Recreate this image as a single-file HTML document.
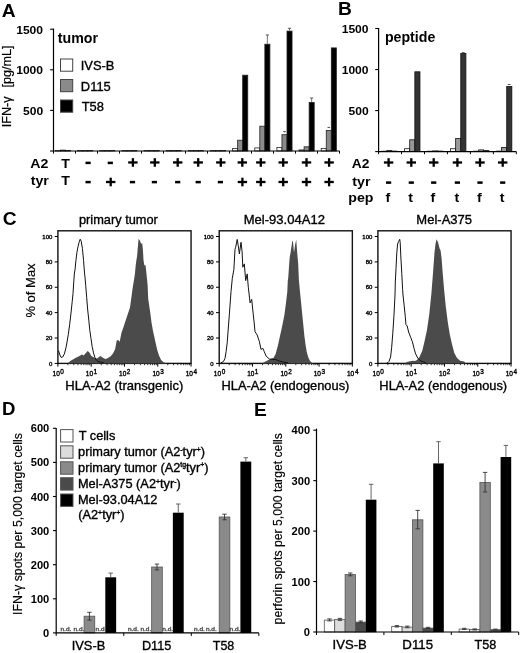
<!DOCTYPE html>
<html><head><meta charset="utf-8"><style>
html,body{margin:0;padding:0;background:#fff;overflow:hidden;width:520px;height:653px;}
svg{display:block;font-family:"Liberation Sans", sans-serif;will-change:transform;}
</style></head><body>
<svg width="520" height="653" viewBox="0 0 520 653">
<rect x="0" y="0" width="520" height="653" fill="#fff"/>
<text transform="translate(1.72 17.00)" font-size="19.2" font-weight="bold" fill="#000">A</text>
<text transform="translate(338.05 14.70)" font-size="19.2" font-weight="bold" fill="#000">B</text>
<text transform="translate(2.73 224.60)" font-size="19.2" font-weight="bold" fill="#000">C</text>
<text transform="translate(2.09 414.50)" font-size="18.6" font-weight="bold" fill="#000">D</text>
<text transform="translate(253.95 415.70)" font-size="19.2" font-weight="bold" fill="#000">E</text>
<line x1="53.50" y1="28.60" x2="53.50" y2="151.60" stroke="#000" stroke-width="1.2"/>
<line x1="50.10" y1="151.00" x2="53.50" y2="151.00" stroke="#000" stroke-width="1.1"/>
<line x1="50.10" y1="110.40" x2="53.50" y2="110.40" stroke="#000" stroke-width="1.1"/>
<text transform="translate(22.94 115.00) scale(1.1000 1)" font-size="11.0" font-weight="bold" fill="#000">500</text>
<line x1="50.10" y1="69.80" x2="53.50" y2="69.80" stroke="#000" stroke-width="1.1"/>
<text transform="translate(16.16 74.40) scale(1.1000 1)" font-size="11.0" font-weight="bold" fill="#000">1000</text>
<line x1="50.10" y1="29.20" x2="53.50" y2="29.20" stroke="#000" stroke-width="1.1"/>
<text transform="translate(16.16 33.80) scale(1.1000 1)" font-size="11.0" font-weight="bold" fill="#000">1500</text>
<text transform="translate(11.40 127.34) rotate(-90) scale(1.0300 1)" font-size="12.3" fill="#000" stroke="#000" stroke-width="0.18">IFN-γ</text>
<text transform="translate(11.40 87.59) rotate(-90) scale(1.0300 1)" font-size="12.3" fill="#000" stroke="#000" stroke-width="0.18">[pg/mL]</text>
<line x1="53.50" y1="151.00" x2="53.50" y2="153.60" stroke="#000" stroke-width="1.0"/>
<line x1="75.50" y1="151.00" x2="75.50" y2="153.60" stroke="#000" stroke-width="1.0"/>
<line x1="97.50" y1="151.00" x2="97.50" y2="153.60" stroke="#000" stroke-width="1.0"/>
<line x1="119.50" y1="151.00" x2="119.50" y2="153.60" stroke="#000" stroke-width="1.0"/>
<line x1="141.50" y1="151.00" x2="141.50" y2="153.60" stroke="#000" stroke-width="1.0"/>
<line x1="163.50" y1="151.00" x2="163.50" y2="153.60" stroke="#000" stroke-width="1.0"/>
<line x1="185.50" y1="151.00" x2="185.50" y2="153.60" stroke="#000" stroke-width="1.0"/>
<line x1="207.50" y1="151.00" x2="207.50" y2="153.60" stroke="#000" stroke-width="1.0"/>
<line x1="229.50" y1="151.00" x2="229.50" y2="153.60" stroke="#000" stroke-width="1.0"/>
<line x1="251.50" y1="151.00" x2="251.50" y2="153.60" stroke="#000" stroke-width="1.0"/>
<line x1="273.50" y1="151.00" x2="273.50" y2="153.60" stroke="#000" stroke-width="1.0"/>
<line x1="295.50" y1="151.00" x2="295.50" y2="153.60" stroke="#000" stroke-width="1.0"/>
<line x1="317.50" y1="151.00" x2="317.50" y2="153.60" stroke="#000" stroke-width="1.0"/>
<line x1="339.50" y1="151.00" x2="339.50" y2="153.60" stroke="#000" stroke-width="1.0"/>
<text transform="translate(57.76 42.70)" font-size="14.2" font-weight="bold" fill="#000">tumor</text>
<rect x="60.50" y="59.00" width="12.20" height="12.20" fill="#fff" stroke="#444" stroke-width="1"/>
<text transform="translate(80.74 70.20)" font-size="12.9" fill="#000" stroke="#000" stroke-width="0.35">IVS-B</text>
<rect x="60.50" y="79.50" width="12.20" height="12.20" fill="#8a8a8a" stroke="#444" stroke-width="1"/>
<text transform="translate(80.87 90.70)" font-size="12.9" fill="#000" stroke="#000" stroke-width="0.35">D115</text>
<rect x="60.50" y="100.00" width="12.20" height="12.20" fill="#000" stroke="#444" stroke-width="1"/>
<text transform="translate(81.64 111.20)" font-size="12.9" fill="#000" stroke="#000" stroke-width="0.35">T58</text>
<rect x="55.40" y="150.60" width="5.05" height="0.40" fill="#fff" stroke="#222" stroke-width="0.8"/>
<rect x="60.45" y="150.10" width="5.05" height="0.90" fill="#8a8a8a" stroke="#222" stroke-width="0.8"/>
<rect x="65.50" y="150.40" width="5.05" height="0.60" fill="#000" stroke="#222" stroke-width="0.8"/>
<rect x="77.55" y="150.60" width="5.05" height="0.40" fill="#fff" stroke="#222" stroke-width="0.8"/>
<rect x="82.60" y="150.60" width="5.05" height="0.40" fill="#8a8a8a" stroke="#222" stroke-width="0.8"/>
<rect x="87.65" y="150.60" width="5.05" height="0.40" fill="#000" stroke="#222" stroke-width="0.8"/>
<rect x="99.70" y="150.60" width="5.05" height="0.40" fill="#fff" stroke="#222" stroke-width="0.8"/>
<rect x="104.75" y="150.60" width="5.05" height="0.40" fill="#8a8a8a" stroke="#222" stroke-width="0.8"/>
<rect x="109.80" y="150.60" width="5.05" height="0.40" fill="#000" stroke="#222" stroke-width="0.8"/>
<rect x="121.85" y="150.60" width="5.05" height="0.40" fill="#fff" stroke="#222" stroke-width="0.8"/>
<rect x="126.90" y="150.60" width="5.05" height="0.40" fill="#8a8a8a" stroke="#222" stroke-width="0.8"/>
<rect x="131.95" y="150.60" width="5.05" height="0.40" fill="#000" stroke="#222" stroke-width="0.8"/>
<rect x="144.00" y="150.60" width="5.05" height="0.40" fill="#fff" stroke="#222" stroke-width="0.8"/>
<rect x="149.05" y="150.60" width="5.05" height="0.40" fill="#8a8a8a" stroke="#222" stroke-width="0.8"/>
<rect x="154.10" y="150.60" width="5.05" height="0.40" fill="#000" stroke="#222" stroke-width="0.8"/>
<rect x="166.15" y="150.60" width="5.05" height="0.40" fill="#fff" stroke="#222" stroke-width="0.8"/>
<rect x="171.20" y="150.60" width="5.05" height="0.40" fill="#8a8a8a" stroke="#222" stroke-width="0.8"/>
<rect x="176.25" y="150.60" width="5.05" height="0.40" fill="#000" stroke="#222" stroke-width="0.8"/>
<rect x="188.30" y="150.60" width="5.05" height="0.40" fill="#fff" stroke="#222" stroke-width="0.8"/>
<rect x="193.35" y="150.60" width="5.05" height="0.40" fill="#8a8a8a" stroke="#222" stroke-width="0.8"/>
<rect x="198.40" y="150.60" width="5.05" height="0.40" fill="#000" stroke="#222" stroke-width="0.8"/>
<rect x="210.45" y="150.60" width="5.05" height="0.40" fill="#fff" stroke="#222" stroke-width="0.8"/>
<rect x="215.50" y="150.60" width="5.05" height="0.40" fill="#8a8a8a" stroke="#222" stroke-width="0.8"/>
<rect x="220.55" y="150.60" width="5.05" height="0.40" fill="#000" stroke="#222" stroke-width="0.8"/>
<rect x="232.60" y="148.40" width="5.05" height="2.60" fill="#fff" stroke="#222" stroke-width="0.8"/>
<rect x="237.65" y="140.20" width="5.05" height="10.80" fill="#8a8a8a" stroke="#222" stroke-width="0.8"/>
<rect x="242.70" y="75.20" width="5.05" height="75.80" fill="#000" stroke="#222" stroke-width="0.8"/>
<rect x="254.75" y="147.90" width="5.05" height="3.10" fill="#fff" stroke="#222" stroke-width="0.8"/>
<rect x="259.80" y="126.20" width="5.05" height="24.80" fill="#8a8a8a" stroke="#222" stroke-width="0.8"/>
<rect x="264.85" y="44.20" width="5.05" height="106.80" fill="#000" stroke="#222" stroke-width="0.8"/>
<line x1="267.35" y1="43.80" x2="267.35" y2="35.00" stroke="#777" stroke-width="1"/>
<line x1="265.75" y1="35.00" x2="268.95" y2="35.00" stroke="#555" stroke-width="1"/>
<rect x="276.90" y="147.40" width="5.05" height="3.60" fill="#fff" stroke="#222" stroke-width="0.8"/>
<rect x="281.95" y="134.70" width="5.05" height="16.30" fill="#8a8a8a" stroke="#222" stroke-width="0.8"/>
<rect x="287.00" y="31.10" width="5.05" height="119.90" fill="#000" stroke="#222" stroke-width="0.8"/>
<line x1="289.50" y1="30.70" x2="289.50" y2="28.30" stroke="#777" stroke-width="1"/>
<line x1="287.90" y1="28.30" x2="291.10" y2="28.30" stroke="#555" stroke-width="1"/>
<line x1="284.50" y1="132.30" x2="284.50" y2="131.60" stroke="#333" stroke-width="0.8"/>
<line x1="283.20" y1="131.60" x2="285.80" y2="131.60" stroke="#333" stroke-width="0.8"/>
<rect x="299.05" y="149.90" width="5.05" height="1.10" fill="#fff" stroke="#222" stroke-width="0.8"/>
<rect x="304.10" y="146.80" width="5.05" height="4.20" fill="#8a8a8a" stroke="#222" stroke-width="0.8"/>
<rect x="309.15" y="102.40" width="5.05" height="48.60" fill="#000" stroke="#222" stroke-width="0.8"/>
<line x1="311.65" y1="102.00" x2="311.65" y2="98.00" stroke="#777" stroke-width="1"/>
<line x1="310.05" y1="98.00" x2="313.25" y2="98.00" stroke="#555" stroke-width="1"/>
<rect x="321.20" y="148.40" width="5.05" height="2.60" fill="#fff" stroke="#222" stroke-width="0.8"/>
<rect x="326.25" y="130.40" width="5.05" height="20.60" fill="#8a8a8a" stroke="#222" stroke-width="0.8"/>
<rect x="331.30" y="47.90" width="5.05" height="103.10" fill="#000" stroke="#222" stroke-width="0.8"/>
<line x1="328.80" y1="128.00" x2="328.80" y2="127.40" stroke="#333" stroke-width="0.8"/>
<line x1="327.50" y1="127.40" x2="330.10" y2="127.40" stroke="#333" stroke-width="0.8"/>
<line x1="53.50" y1="151.00" x2="339.60" y2="151.00" stroke="#000" stroke-width="1.2"/>
<text transform="translate(30.24 168.30) scale(1.0600 1)" font-size="13.4" font-weight="bold" fill="#000">A2</text>
<text transform="translate(30.66 185.40) scale(1.0600 1)" font-size="13.4" font-weight="bold" fill="#000">tyr</text>
<text transform="translate(61.17 168.30) scale(1.0600 1)" font-size="13.4" font-weight="bold" fill="#000">T</text>
<rect x="85.50" y="161.65" width="5.20" height="2.50" fill="#000"/>
<rect x="107.70" y="161.65" width="5.20" height="2.50" fill="#000"/>
<rect x="128.20" y="161.30" width="9.40" height="2.30" fill="#000"/>
<rect x="131.75" y="158.15" width="2.30" height="8.60" fill="#000"/>
<rect x="150.10" y="161.30" width="9.40" height="2.30" fill="#000"/>
<rect x="153.65" y="158.15" width="2.30" height="8.60" fill="#000"/>
<rect x="173.00" y="161.30" width="9.40" height="2.30" fill="#000"/>
<rect x="176.55" y="158.15" width="2.30" height="8.60" fill="#000"/>
<rect x="193.50" y="161.30" width="9.40" height="2.30" fill="#000"/>
<rect x="197.05" y="158.15" width="2.30" height="8.60" fill="#000"/>
<rect x="216.10" y="161.30" width="9.40" height="2.30" fill="#000"/>
<rect x="219.65" y="158.15" width="2.30" height="8.60" fill="#000"/>
<rect x="237.60" y="161.30" width="9.40" height="2.30" fill="#000"/>
<rect x="241.15" y="158.15" width="2.30" height="8.60" fill="#000"/>
<rect x="256.10" y="161.30" width="9.40" height="2.30" fill="#000"/>
<rect x="259.65" y="158.15" width="2.30" height="8.60" fill="#000"/>
<rect x="278.50" y="161.30" width="9.40" height="2.30" fill="#000"/>
<rect x="282.05" y="158.15" width="2.30" height="8.60" fill="#000"/>
<rect x="301.80" y="161.30" width="9.40" height="2.30" fill="#000"/>
<rect x="305.35" y="158.15" width="2.30" height="8.60" fill="#000"/>
<rect x="324.40" y="161.30" width="9.40" height="2.30" fill="#000"/>
<rect x="327.95" y="158.15" width="2.30" height="8.60" fill="#000"/>
<text transform="translate(61.17 185.40) scale(1.0600 1)" font-size="13.4" font-weight="bold" fill="#000">T</text>
<rect x="85.50" y="180.85" width="5.20" height="2.50" fill="#000"/>
<rect x="106.00" y="180.85" width="9.40" height="2.30" fill="#000"/>
<rect x="109.55" y="177.70" width="2.30" height="8.60" fill="#000"/>
<rect x="129.90" y="180.85" width="5.20" height="2.50" fill="#000"/>
<rect x="151.80" y="180.85" width="5.20" height="2.50" fill="#000"/>
<rect x="175.10" y="180.85" width="5.20" height="2.50" fill="#000"/>
<rect x="195.60" y="180.85" width="5.20" height="2.50" fill="#000"/>
<rect x="217.80" y="180.85" width="5.20" height="2.50" fill="#000"/>
<rect x="237.70" y="180.85" width="9.40" height="2.30" fill="#000"/>
<rect x="241.25" y="177.70" width="2.30" height="8.60" fill="#000"/>
<rect x="256.10" y="180.85" width="9.40" height="2.30" fill="#000"/>
<rect x="259.65" y="177.70" width="2.30" height="8.60" fill="#000"/>
<rect x="278.50" y="180.85" width="9.40" height="2.30" fill="#000"/>
<rect x="282.05" y="177.70" width="2.30" height="8.60" fill="#000"/>
<rect x="301.80" y="180.85" width="9.40" height="2.30" fill="#000"/>
<rect x="305.35" y="177.70" width="2.30" height="8.60" fill="#000"/>
<rect x="324.40" y="180.85" width="9.40" height="2.30" fill="#000"/>
<rect x="327.95" y="177.70" width="2.30" height="8.60" fill="#000"/>
<line x1="378.60" y1="28.10" x2="378.60" y2="152.20" stroke="#000" stroke-width="1.2"/>
<line x1="375.20" y1="151.60" x2="378.60" y2="151.60" stroke="#000" stroke-width="1.1"/>
<line x1="375.20" y1="110.57" x2="378.60" y2="110.57" stroke="#000" stroke-width="1.1"/>
<text transform="translate(348.44 115.27) scale(1.1000 1)" font-size="11.0" font-weight="bold" fill="#000">500</text>
<line x1="375.20" y1="69.53" x2="378.60" y2="69.53" stroke="#000" stroke-width="1.1"/>
<text transform="translate(341.66 74.23) scale(1.1000 1)" font-size="11.0" font-weight="bold" fill="#000">1000</text>
<line x1="375.20" y1="28.50" x2="378.60" y2="28.50" stroke="#000" stroke-width="1.1"/>
<text transform="translate(341.66 33.20) scale(1.1000 1)" font-size="11.0" font-weight="bold" fill="#000">1500</text>
<line x1="378.60" y1="151.60" x2="378.60" y2="154.20" stroke="#000" stroke-width="1.0"/>
<line x1="401.55" y1="151.60" x2="401.55" y2="154.20" stroke="#000" stroke-width="1.0"/>
<line x1="424.50" y1="151.60" x2="424.50" y2="154.20" stroke="#000" stroke-width="1.0"/>
<line x1="447.45" y1="151.60" x2="447.45" y2="154.20" stroke="#000" stroke-width="1.0"/>
<line x1="470.40" y1="151.60" x2="470.40" y2="154.20" stroke="#000" stroke-width="1.0"/>
<line x1="493.35" y1="151.60" x2="493.35" y2="154.20" stroke="#000" stroke-width="1.0"/>
<line x1="516.30" y1="151.60" x2="516.30" y2="154.20" stroke="#000" stroke-width="1.0"/>
<text transform="translate(384.88 42.30)" font-size="14.2" font-weight="bold" fill="#000">peptide</text>
<rect x="381.63" y="151.20" width="5.12" height="0.40" fill="#fff" stroke="#111" stroke-width="0.8"/>
<rect x="386.75" y="150.60" width="5.12" height="1.00" fill="#999" stroke="#111" stroke-width="0.8"/>
<rect x="391.87" y="151.10" width="5.12" height="0.50" fill="#333" stroke="#111" stroke-width="0.8"/>
<rect x="404.60" y="148.70" width="5.12" height="2.90" fill="#fff" stroke="#111" stroke-width="0.8"/>
<rect x="409.72" y="139.80" width="5.12" height="11.80" fill="#999" stroke="#111" stroke-width="0.8"/>
<rect x="414.84" y="71.80" width="5.12" height="79.80" fill="#333" stroke="#111" stroke-width="0.8"/>
<rect x="427.57" y="151.20" width="5.12" height="0.40" fill="#fff" stroke="#111" stroke-width="0.8"/>
<rect x="432.69" y="150.90" width="5.12" height="0.70" fill="#999" stroke="#111" stroke-width="0.8"/>
<rect x="437.81" y="151.10" width="5.12" height="0.50" fill="#333" stroke="#111" stroke-width="0.8"/>
<rect x="450.54" y="148.70" width="5.12" height="2.90" fill="#fff" stroke="#111" stroke-width="0.8"/>
<rect x="455.66" y="138.50" width="5.12" height="13.10" fill="#999" stroke="#111" stroke-width="0.8"/>
<rect x="460.78" y="53.40" width="5.12" height="98.20" fill="#333" stroke="#111" stroke-width="0.8"/>
<line x1="461.84" y1="52.60" x2="464.64" y2="52.60" stroke="#555" stroke-width="1"/>
<rect x="473.51" y="151.20" width="5.12" height="0.40" fill="#fff" stroke="#111" stroke-width="0.8"/>
<rect x="478.63" y="149.90" width="5.12" height="1.70" fill="#999" stroke="#111" stroke-width="0.8"/>
<rect x="483.75" y="150.60" width="5.12" height="1.00" fill="#333" stroke="#111" stroke-width="0.8"/>
<rect x="496.48" y="151.10" width="5.12" height="0.50" fill="#fff" stroke="#111" stroke-width="0.8"/>
<rect x="501.60" y="147.50" width="5.12" height="4.10" fill="#999" stroke="#111" stroke-width="0.8"/>
<rect x="506.72" y="86.50" width="5.12" height="65.10" fill="#333" stroke="#111" stroke-width="0.8"/>
<line x1="507.78" y1="84.50" x2="510.58" y2="84.50" stroke="#555" stroke-width="1"/>
<line x1="378.60" y1="151.60" x2="516.30" y2="151.60" stroke="#000" stroke-width="1.2"/>
<text transform="translate(351.85 168.40) scale(1.0300 1)" font-size="13.4" font-weight="bold" fill="#000">A2</text>
<text transform="translate(352.26 185.70) scale(1.0600 1)" font-size="13.4" font-weight="bold" fill="#000">tyr</text>
<text transform="translate(348.28 201.90) scale(1.0600 1)" font-size="13.4" font-weight="bold" fill="#000">pep</text>
<rect x="383.90" y="161.35" width="9.40" height="2.30" fill="#000"/>
<rect x="387.45" y="158.20" width="2.30" height="8.60" fill="#000"/>
<rect x="386.00" y="181.35" width="5.20" height="2.50" fill="#000"/>
<text transform="translate(385.51 201.90) scale(1.0600 1)" font-size="13.4" font-weight="bold" fill="#000">f</text>
<rect x="406.60" y="161.35" width="9.40" height="2.30" fill="#000"/>
<rect x="410.15" y="158.20" width="2.30" height="8.60" fill="#000"/>
<rect x="408.70" y="181.35" width="5.20" height="2.50" fill="#000"/>
<text transform="translate(408.36 201.90) scale(1.0600 1)" font-size="13.4" font-weight="bold" fill="#000">t</text>
<rect x="429.00" y="161.35" width="9.40" height="2.30" fill="#000"/>
<rect x="432.55" y="158.20" width="2.30" height="8.60" fill="#000"/>
<rect x="431.10" y="181.35" width="5.20" height="2.50" fill="#000"/>
<text transform="translate(430.61 201.90) scale(1.0600 1)" font-size="13.4" font-weight="bold" fill="#000">f</text>
<rect x="452.70" y="161.35" width="9.40" height="2.30" fill="#000"/>
<rect x="456.25" y="158.20" width="2.30" height="8.60" fill="#000"/>
<rect x="454.80" y="181.35" width="5.20" height="2.50" fill="#000"/>
<text transform="translate(454.46 201.90) scale(1.0600 1)" font-size="13.4" font-weight="bold" fill="#000">t</text>
<rect x="475.30" y="161.35" width="9.40" height="2.30" fill="#000"/>
<rect x="478.85" y="158.20" width="2.30" height="8.60" fill="#000"/>
<rect x="477.40" y="181.35" width="5.20" height="2.50" fill="#000"/>
<text transform="translate(476.91 201.90) scale(1.0600 1)" font-size="13.4" font-weight="bold" fill="#000">f</text>
<rect x="498.00" y="161.35" width="9.40" height="2.30" fill="#000"/>
<rect x="501.55" y="158.20" width="2.30" height="8.60" fill="#000"/>
<rect x="500.10" y="181.35" width="5.20" height="2.50" fill="#000"/>
<text transform="translate(499.76 201.90) scale(1.0600 1)" font-size="13.4" font-weight="bold" fill="#000">t</text>
<rect x="57.90" y="230.80" width="133.15" height="132.60" fill="none" stroke="#111" stroke-width="1.4"/>
<text transform="translate(78.97 223.60) scale(0.9848 1)" font-size="13.0" fill="#000" stroke="#000" stroke-width="0.35">primary tumor</text>
<text transform="translate(65.26 390.30) scale(1.0263 1)" font-size="12.7" fill="#000" stroke="#000" stroke-width="0.35">HLA-A2 (transgenic)</text>
<line x1="54.70" y1="363.40" x2="57.90" y2="363.40" stroke="#000" stroke-width="1.0"/>
<text transform="translate(49.01 365.50)" font-size="6.0" fill="#000" stroke="#000" stroke-width="0.35">0</text>
<line x1="54.70" y1="338.02" x2="57.90" y2="338.02" stroke="#000" stroke-width="1.0"/>
<text transform="translate(45.68 340.12)" font-size="6.0" fill="#000" stroke="#000" stroke-width="0.35">20</text>
<line x1="54.70" y1="312.64" x2="57.90" y2="312.64" stroke="#000" stroke-width="1.0"/>
<text transform="translate(45.68 314.74)" font-size="6.0" fill="#000" stroke="#000" stroke-width="0.35">40</text>
<line x1="54.70" y1="287.26" x2="57.90" y2="287.26" stroke="#000" stroke-width="1.0"/>
<text transform="translate(45.68 289.36)" font-size="6.0" fill="#000" stroke="#000" stroke-width="0.35">60</text>
<line x1="54.70" y1="261.88" x2="57.90" y2="261.88" stroke="#000" stroke-width="1.0"/>
<text transform="translate(45.68 263.98)" font-size="6.0" fill="#000" stroke="#000" stroke-width="0.35">80</text>
<line x1="54.70" y1="236.50" x2="57.90" y2="236.50" stroke="#000" stroke-width="1.0"/>
<text transform="translate(42.35 238.60)" font-size="6.0" fill="#000" stroke="#000" stroke-width="0.35">100</text>
<line x1="57.90" y1="363.40" x2="57.90" y2="366.60" stroke="#000" stroke-width="1.0"/>
<text transform="translate(52.55 375.70)" font-size="6.5" fill="#000" stroke="#000" stroke-width="0.35">10</text>
<text transform="translate(60.34 373.60)" font-size="6.4" fill="#000" stroke="#000" stroke-width="0.35">0</text>
<line x1="67.92" y1="363.40" x2="67.92" y2="365.20" stroke="#000" stroke-width="0.8"/>
<line x1="73.78" y1="363.40" x2="73.78" y2="365.20" stroke="#000" stroke-width="0.8"/>
<line x1="77.94" y1="363.40" x2="77.94" y2="365.20" stroke="#000" stroke-width="0.8"/>
<line x1="81.17" y1="363.40" x2="81.17" y2="365.20" stroke="#000" stroke-width="0.8"/>
<line x1="83.80" y1="363.40" x2="83.80" y2="365.20" stroke="#000" stroke-width="0.8"/>
<line x1="86.03" y1="363.40" x2="86.03" y2="365.20" stroke="#000" stroke-width="0.8"/>
<line x1="87.96" y1="363.40" x2="87.96" y2="365.20" stroke="#000" stroke-width="0.8"/>
<line x1="89.66" y1="363.40" x2="89.66" y2="365.20" stroke="#000" stroke-width="0.8"/>
<line x1="91.19" y1="363.40" x2="91.19" y2="366.60" stroke="#000" stroke-width="1.0"/>
<text transform="translate(85.83 375.70)" font-size="6.5" fill="#000" stroke="#000" stroke-width="0.35">10</text>
<text transform="translate(93.41 373.60)" font-size="6.4" fill="#000" stroke="#000" stroke-width="0.35">1</text>
<line x1="101.21" y1="363.40" x2="101.21" y2="365.20" stroke="#000" stroke-width="0.8"/>
<line x1="107.07" y1="363.40" x2="107.07" y2="365.20" stroke="#000" stroke-width="0.8"/>
<line x1="111.23" y1="363.40" x2="111.23" y2="365.20" stroke="#000" stroke-width="0.8"/>
<line x1="114.45" y1="363.40" x2="114.45" y2="365.20" stroke="#000" stroke-width="0.8"/>
<line x1="117.09" y1="363.40" x2="117.09" y2="365.20" stroke="#000" stroke-width="0.8"/>
<line x1="119.32" y1="363.40" x2="119.32" y2="365.20" stroke="#000" stroke-width="0.8"/>
<line x1="121.25" y1="363.40" x2="121.25" y2="365.20" stroke="#000" stroke-width="0.8"/>
<line x1="122.95" y1="363.40" x2="122.95" y2="365.20" stroke="#000" stroke-width="0.8"/>
<line x1="124.47" y1="363.40" x2="124.47" y2="366.60" stroke="#000" stroke-width="1.0"/>
<text transform="translate(119.12 375.70)" font-size="6.5" fill="#000" stroke="#000" stroke-width="0.35">10</text>
<text transform="translate(126.86 373.60)" font-size="6.4" fill="#000" stroke="#000" stroke-width="0.35">2</text>
<line x1="134.50" y1="363.40" x2="134.50" y2="365.20" stroke="#000" stroke-width="0.8"/>
<line x1="140.36" y1="363.40" x2="140.36" y2="365.20" stroke="#000" stroke-width="0.8"/>
<line x1="144.52" y1="363.40" x2="144.52" y2="365.20" stroke="#000" stroke-width="0.8"/>
<line x1="147.74" y1="363.40" x2="147.74" y2="365.20" stroke="#000" stroke-width="0.8"/>
<line x1="150.38" y1="363.40" x2="150.38" y2="365.20" stroke="#000" stroke-width="0.8"/>
<line x1="152.61" y1="363.40" x2="152.61" y2="365.20" stroke="#000" stroke-width="0.8"/>
<line x1="154.54" y1="363.40" x2="154.54" y2="365.20" stroke="#000" stroke-width="0.8"/>
<line x1="156.24" y1="363.40" x2="156.24" y2="365.20" stroke="#000" stroke-width="0.8"/>
<line x1="157.76" y1="363.40" x2="157.76" y2="366.60" stroke="#000" stroke-width="1.0"/>
<text transform="translate(152.41 375.70)" font-size="6.5" fill="#000" stroke="#000" stroke-width="0.35">10</text>
<text transform="translate(160.21 373.60)" font-size="6.4" fill="#000" stroke="#000" stroke-width="0.35">3</text>
<line x1="167.78" y1="363.40" x2="167.78" y2="365.20" stroke="#000" stroke-width="0.8"/>
<line x1="173.64" y1="363.40" x2="173.64" y2="365.20" stroke="#000" stroke-width="0.8"/>
<line x1="177.80" y1="363.40" x2="177.80" y2="365.20" stroke="#000" stroke-width="0.8"/>
<line x1="181.03" y1="363.40" x2="181.03" y2="365.20" stroke="#000" stroke-width="0.8"/>
<line x1="183.67" y1="363.40" x2="183.67" y2="365.20" stroke="#000" stroke-width="0.8"/>
<line x1="185.89" y1="363.40" x2="185.89" y2="365.20" stroke="#000" stroke-width="0.8"/>
<line x1="187.82" y1="363.40" x2="187.82" y2="365.20" stroke="#000" stroke-width="0.8"/>
<line x1="189.53" y1="363.40" x2="189.53" y2="365.20" stroke="#000" stroke-width="0.8"/>
<line x1="191.05" y1="363.40" x2="191.05" y2="366.60" stroke="#000" stroke-width="1.0"/>
<text transform="translate(185.69 375.70)" font-size="6.5" fill="#000" stroke="#000" stroke-width="0.35">10</text>
<text transform="translate(193.59 373.60)" font-size="6.4" fill="#000" stroke="#000" stroke-width="0.35">4</text>
<rect x="219.20" y="230.80" width="133.15" height="132.60" fill="none" stroke="#111" stroke-width="1.4"/>
<text transform="translate(243.76 223.90) scale(1.0033 1)" font-size="13.0" fill="#000" stroke="#000" stroke-width="0.35">Mel-93.04A12</text>
<text transform="translate(221.47 390.30) scale(1.0137 1)" font-size="12.7" fill="#000" stroke="#000" stroke-width="0.35">HLA-A2 (endogenous)</text>
<line x1="216.00" y1="363.40" x2="219.20" y2="363.40" stroke="#000" stroke-width="1.0"/>
<text transform="translate(210.31 365.50)" font-size="6.0" fill="#000" stroke="#000" stroke-width="0.35">0</text>
<line x1="216.00" y1="338.02" x2="219.20" y2="338.02" stroke="#000" stroke-width="1.0"/>
<text transform="translate(206.98 340.12)" font-size="6.0" fill="#000" stroke="#000" stroke-width="0.35">20</text>
<line x1="216.00" y1="312.64" x2="219.20" y2="312.64" stroke="#000" stroke-width="1.0"/>
<text transform="translate(206.98 314.74)" font-size="6.0" fill="#000" stroke="#000" stroke-width="0.35">40</text>
<line x1="216.00" y1="287.26" x2="219.20" y2="287.26" stroke="#000" stroke-width="1.0"/>
<text transform="translate(206.98 289.36)" font-size="6.0" fill="#000" stroke="#000" stroke-width="0.35">60</text>
<line x1="216.00" y1="261.88" x2="219.20" y2="261.88" stroke="#000" stroke-width="1.0"/>
<text transform="translate(206.98 263.98)" font-size="6.0" fill="#000" stroke="#000" stroke-width="0.35">80</text>
<line x1="216.00" y1="236.50" x2="219.20" y2="236.50" stroke="#000" stroke-width="1.0"/>
<text transform="translate(203.65 238.60)" font-size="6.0" fill="#000" stroke="#000" stroke-width="0.35">100</text>
<line x1="219.20" y1="363.40" x2="219.20" y2="366.60" stroke="#000" stroke-width="1.0"/>
<text transform="translate(213.84 375.70)" font-size="6.5" fill="#000" stroke="#000" stroke-width="0.35">10</text>
<text transform="translate(221.64 373.60)" font-size="6.4" fill="#000" stroke="#000" stroke-width="0.35">0</text>
<line x1="229.22" y1="363.40" x2="229.22" y2="365.20" stroke="#000" stroke-width="0.8"/>
<line x1="235.08" y1="363.40" x2="235.08" y2="365.20" stroke="#000" stroke-width="0.8"/>
<line x1="239.24" y1="363.40" x2="239.24" y2="365.20" stroke="#000" stroke-width="0.8"/>
<line x1="242.47" y1="363.40" x2="242.47" y2="365.20" stroke="#000" stroke-width="0.8"/>
<line x1="245.10" y1="363.40" x2="245.10" y2="365.20" stroke="#000" stroke-width="0.8"/>
<line x1="247.33" y1="363.40" x2="247.33" y2="365.20" stroke="#000" stroke-width="0.8"/>
<line x1="249.26" y1="363.40" x2="249.26" y2="365.20" stroke="#000" stroke-width="0.8"/>
<line x1="250.96" y1="363.40" x2="250.96" y2="365.20" stroke="#000" stroke-width="0.8"/>
<line x1="252.49" y1="363.40" x2="252.49" y2="366.60" stroke="#000" stroke-width="1.0"/>
<text transform="translate(247.13 375.70)" font-size="6.5" fill="#000" stroke="#000" stroke-width="0.35">10</text>
<text transform="translate(254.71 373.60)" font-size="6.4" fill="#000" stroke="#000" stroke-width="0.35">1</text>
<line x1="262.51" y1="363.40" x2="262.51" y2="365.20" stroke="#000" stroke-width="0.8"/>
<line x1="268.37" y1="363.40" x2="268.37" y2="365.20" stroke="#000" stroke-width="0.8"/>
<line x1="272.53" y1="363.40" x2="272.53" y2="365.20" stroke="#000" stroke-width="0.8"/>
<line x1="275.75" y1="363.40" x2="275.75" y2="365.20" stroke="#000" stroke-width="0.8"/>
<line x1="278.39" y1="363.40" x2="278.39" y2="365.20" stroke="#000" stroke-width="0.8"/>
<line x1="280.62" y1="363.40" x2="280.62" y2="365.20" stroke="#000" stroke-width="0.8"/>
<line x1="282.55" y1="363.40" x2="282.55" y2="365.20" stroke="#000" stroke-width="0.8"/>
<line x1="284.25" y1="363.40" x2="284.25" y2="365.20" stroke="#000" stroke-width="0.8"/>
<line x1="285.77" y1="363.40" x2="285.77" y2="366.60" stroke="#000" stroke-width="1.0"/>
<text transform="translate(280.42 375.70)" font-size="6.5" fill="#000" stroke="#000" stroke-width="0.35">10</text>
<text transform="translate(288.15 373.60)" font-size="6.4" fill="#000" stroke="#000" stroke-width="0.35">2</text>
<line x1="295.80" y1="363.40" x2="295.80" y2="365.20" stroke="#000" stroke-width="0.8"/>
<line x1="301.66" y1="363.40" x2="301.66" y2="365.20" stroke="#000" stroke-width="0.8"/>
<line x1="305.82" y1="363.40" x2="305.82" y2="365.20" stroke="#000" stroke-width="0.8"/>
<line x1="309.04" y1="363.40" x2="309.04" y2="365.20" stroke="#000" stroke-width="0.8"/>
<line x1="311.68" y1="363.40" x2="311.68" y2="365.20" stroke="#000" stroke-width="0.8"/>
<line x1="313.91" y1="363.40" x2="313.91" y2="365.20" stroke="#000" stroke-width="0.8"/>
<line x1="315.84" y1="363.40" x2="315.84" y2="365.20" stroke="#000" stroke-width="0.8"/>
<line x1="317.54" y1="363.40" x2="317.54" y2="365.20" stroke="#000" stroke-width="0.8"/>
<line x1="319.06" y1="363.40" x2="319.06" y2="366.60" stroke="#000" stroke-width="1.0"/>
<text transform="translate(313.71 375.70)" font-size="6.5" fill="#000" stroke="#000" stroke-width="0.35">10</text>
<text transform="translate(321.51 373.60)" font-size="6.4" fill="#000" stroke="#000" stroke-width="0.35">3</text>
<line x1="329.08" y1="363.40" x2="329.08" y2="365.20" stroke="#000" stroke-width="0.8"/>
<line x1="334.94" y1="363.40" x2="334.94" y2="365.20" stroke="#000" stroke-width="0.8"/>
<line x1="339.10" y1="363.40" x2="339.10" y2="365.20" stroke="#000" stroke-width="0.8"/>
<line x1="342.33" y1="363.40" x2="342.33" y2="365.20" stroke="#000" stroke-width="0.8"/>
<line x1="344.97" y1="363.40" x2="344.97" y2="365.20" stroke="#000" stroke-width="0.8"/>
<line x1="347.19" y1="363.40" x2="347.19" y2="365.20" stroke="#000" stroke-width="0.8"/>
<line x1="349.12" y1="363.40" x2="349.12" y2="365.20" stroke="#000" stroke-width="0.8"/>
<line x1="350.83" y1="363.40" x2="350.83" y2="365.20" stroke="#000" stroke-width="0.8"/>
<line x1="352.35" y1="363.40" x2="352.35" y2="366.60" stroke="#000" stroke-width="1.0"/>
<text transform="translate(347.00 375.70)" font-size="6.5" fill="#000" stroke="#000" stroke-width="0.35">10</text>
<text transform="translate(354.89 373.60)" font-size="6.4" fill="#000" stroke="#000" stroke-width="0.35">4</text>
<rect x="377.90" y="230.80" width="133.15" height="132.60" fill="none" stroke="#111" stroke-width="1.4"/>
<text transform="translate(416.36 223.80) scale(1.0022 1)" font-size="13.0" fill="#000" stroke="#000" stroke-width="0.35">Mel-A375</text>
<text transform="translate(379.37 390.30) scale(1.0113 1)" font-size="12.7" fill="#000" stroke="#000" stroke-width="0.35">HLA-A2 (endogenous)</text>
<line x1="374.70" y1="363.40" x2="377.90" y2="363.40" stroke="#000" stroke-width="1.0"/>
<text transform="translate(369.01 365.50)" font-size="6.0" fill="#000" stroke="#000" stroke-width="0.35">0</text>
<line x1="374.70" y1="338.02" x2="377.90" y2="338.02" stroke="#000" stroke-width="1.0"/>
<text transform="translate(365.68 340.12)" font-size="6.0" fill="#000" stroke="#000" stroke-width="0.35">20</text>
<line x1="374.70" y1="312.64" x2="377.90" y2="312.64" stroke="#000" stroke-width="1.0"/>
<text transform="translate(365.68 314.74)" font-size="6.0" fill="#000" stroke="#000" stroke-width="0.35">40</text>
<line x1="374.70" y1="287.26" x2="377.90" y2="287.26" stroke="#000" stroke-width="1.0"/>
<text transform="translate(365.68 289.36)" font-size="6.0" fill="#000" stroke="#000" stroke-width="0.35">60</text>
<line x1="374.70" y1="261.88" x2="377.90" y2="261.88" stroke="#000" stroke-width="1.0"/>
<text transform="translate(365.68 263.98)" font-size="6.0" fill="#000" stroke="#000" stroke-width="0.35">80</text>
<line x1="374.70" y1="236.50" x2="377.90" y2="236.50" stroke="#000" stroke-width="1.0"/>
<text transform="translate(362.35 238.60)" font-size="6.0" fill="#000" stroke="#000" stroke-width="0.35">100</text>
<line x1="377.90" y1="363.40" x2="377.90" y2="366.60" stroke="#000" stroke-width="1.0"/>
<text transform="translate(372.55 375.70)" font-size="6.5" fill="#000" stroke="#000" stroke-width="0.35">10</text>
<text transform="translate(380.34 373.60)" font-size="6.4" fill="#000" stroke="#000" stroke-width="0.35">0</text>
<line x1="387.92" y1="363.40" x2="387.92" y2="365.20" stroke="#000" stroke-width="0.8"/>
<line x1="393.78" y1="363.40" x2="393.78" y2="365.20" stroke="#000" stroke-width="0.8"/>
<line x1="397.94" y1="363.40" x2="397.94" y2="365.20" stroke="#000" stroke-width="0.8"/>
<line x1="401.17" y1="363.40" x2="401.17" y2="365.20" stroke="#000" stroke-width="0.8"/>
<line x1="403.80" y1="363.40" x2="403.80" y2="365.20" stroke="#000" stroke-width="0.8"/>
<line x1="406.03" y1="363.40" x2="406.03" y2="365.20" stroke="#000" stroke-width="0.8"/>
<line x1="407.96" y1="363.40" x2="407.96" y2="365.20" stroke="#000" stroke-width="0.8"/>
<line x1="409.66" y1="363.40" x2="409.66" y2="365.20" stroke="#000" stroke-width="0.8"/>
<line x1="411.19" y1="363.40" x2="411.19" y2="366.60" stroke="#000" stroke-width="1.0"/>
<text transform="translate(405.83 375.70)" font-size="6.5" fill="#000" stroke="#000" stroke-width="0.35">10</text>
<text transform="translate(413.41 373.60)" font-size="6.4" fill="#000" stroke="#000" stroke-width="0.35">1</text>
<line x1="421.21" y1="363.40" x2="421.21" y2="365.20" stroke="#000" stroke-width="0.8"/>
<line x1="427.07" y1="363.40" x2="427.07" y2="365.20" stroke="#000" stroke-width="0.8"/>
<line x1="431.23" y1="363.40" x2="431.23" y2="365.20" stroke="#000" stroke-width="0.8"/>
<line x1="434.45" y1="363.40" x2="434.45" y2="365.20" stroke="#000" stroke-width="0.8"/>
<line x1="437.09" y1="363.40" x2="437.09" y2="365.20" stroke="#000" stroke-width="0.8"/>
<line x1="439.32" y1="363.40" x2="439.32" y2="365.20" stroke="#000" stroke-width="0.8"/>
<line x1="441.25" y1="363.40" x2="441.25" y2="365.20" stroke="#000" stroke-width="0.8"/>
<line x1="442.95" y1="363.40" x2="442.95" y2="365.20" stroke="#000" stroke-width="0.8"/>
<line x1="444.47" y1="363.40" x2="444.47" y2="366.60" stroke="#000" stroke-width="1.0"/>
<text transform="translate(439.12 375.70)" font-size="6.5" fill="#000" stroke="#000" stroke-width="0.35">10</text>
<text transform="translate(446.85 373.60)" font-size="6.4" fill="#000" stroke="#000" stroke-width="0.35">2</text>
<line x1="454.50" y1="363.40" x2="454.50" y2="365.20" stroke="#000" stroke-width="0.8"/>
<line x1="460.36" y1="363.40" x2="460.36" y2="365.20" stroke="#000" stroke-width="0.8"/>
<line x1="464.52" y1="363.40" x2="464.52" y2="365.20" stroke="#000" stroke-width="0.8"/>
<line x1="467.74" y1="363.40" x2="467.74" y2="365.20" stroke="#000" stroke-width="0.8"/>
<line x1="470.38" y1="363.40" x2="470.38" y2="365.20" stroke="#000" stroke-width="0.8"/>
<line x1="472.61" y1="363.40" x2="472.61" y2="365.20" stroke="#000" stroke-width="0.8"/>
<line x1="474.54" y1="363.40" x2="474.54" y2="365.20" stroke="#000" stroke-width="0.8"/>
<line x1="476.24" y1="363.40" x2="476.24" y2="365.20" stroke="#000" stroke-width="0.8"/>
<line x1="477.76" y1="363.40" x2="477.76" y2="366.60" stroke="#000" stroke-width="1.0"/>
<text transform="translate(472.41 375.70)" font-size="6.5" fill="#000" stroke="#000" stroke-width="0.35">10</text>
<text transform="translate(480.21 373.60)" font-size="6.4" fill="#000" stroke="#000" stroke-width="0.35">3</text>
<line x1="487.78" y1="363.40" x2="487.78" y2="365.20" stroke="#000" stroke-width="0.8"/>
<line x1="493.64" y1="363.40" x2="493.64" y2="365.20" stroke="#000" stroke-width="0.8"/>
<line x1="497.80" y1="363.40" x2="497.80" y2="365.20" stroke="#000" stroke-width="0.8"/>
<line x1="501.03" y1="363.40" x2="501.03" y2="365.20" stroke="#000" stroke-width="0.8"/>
<line x1="503.67" y1="363.40" x2="503.67" y2="365.20" stroke="#000" stroke-width="0.8"/>
<line x1="505.89" y1="363.40" x2="505.89" y2="365.20" stroke="#000" stroke-width="0.8"/>
<line x1="507.82" y1="363.40" x2="507.82" y2="365.20" stroke="#000" stroke-width="0.8"/>
<line x1="509.53" y1="363.40" x2="509.53" y2="365.20" stroke="#000" stroke-width="0.8"/>
<line x1="511.05" y1="363.40" x2="511.05" y2="366.60" stroke="#000" stroke-width="1.0"/>
<text transform="translate(505.69 375.70)" font-size="6.5" fill="#000" stroke="#000" stroke-width="0.35">10</text>
<text transform="translate(513.59 373.60)" font-size="6.4" fill="#000" stroke="#000" stroke-width="0.35">4</text>
<text transform="translate(35.40 317.56) rotate(-90) scale(1.0000 1)" font-size="13.0" fill="#000" stroke="#000" stroke-width="0.18">% of Max</text>
<path d="M67.5,363.4 L70.3,361.1 L75.4,358.0 L79.5,356.0 L82.0,354.5 L83.6,355.4 L85.7,353.3 L87.7,350.9 L89.4,352.5 L91.4,356.0 L93.9,357.4 L97.0,358.6 L99.0,357.0 L100.4,356.0 L102.5,357.4 L105.2,359.0 L107.0,358.6 L110.4,356.4 L113.0,353.6 L115.1,349.3 L116.7,340.6 L118.2,340.0 L119.7,341.7 L121.4,333.1 L123.6,326.7 L125.7,320.2 L127.9,313.8 L130.0,307.4 L131.5,296.6 L132.8,287.0 L133.9,280.5 L134.9,274.1 L135.8,264.5 L136.4,260.2 L137.1,255.9 L138.0,245.2 L138.6,238.7 L140.1,240.9 L141.2,244.1 L142.2,243.0 L142.9,249.4 L143.5,260.2 L144.4,265.5 L145.5,264.9 L146.5,274.1 L147.6,284.8 L148.2,298.8 L149.3,306.3 L150.4,313.8 L151.5,322.4 L153.0,331.0 L154.2,336.3 L155.8,343.8 L157.3,350.3 L159.0,355.6 L161.1,359.9 L163.9,362.5 L167.5,363.4 Z" fill="#4b4b4b" stroke="none" stroke-width="1"/>
<path d="M57.9,350.5 L58.6,350.9 L59.9,355.0 L61.1,357.4 L62.7,357.0 L64.4,353.9 L66.2,346.8 L68.3,334.5 L69.7,324.2 L70.9,314.0 L72.2,301.7 L73.0,293.5 L73.8,281.2 L74.4,273.0 L75.0,269.9 L75.9,260.7 L76.9,252.5 L78.1,246.3 L79.1,242.2 L80.2,239.2 L81.2,241.2 L82.4,248.4 L83.6,260.7 L84.5,273.0 L84.9,276.0 L85.7,285.3 L86.7,297.6 L87.7,309.9 L88.8,320.1 L89.8,330.4 L91.0,338.6 L92.2,346.8 L93.5,352.9 L94.9,357.4 L96.3,360.0 L98.0,361.5 L101.1,362.3 L104.0,362.9" fill="none" stroke="#111" stroke-width="1.0" stroke-linejoin="round"/>
<path d="M261.7,363.4 L265.0,361.7 L268.3,359.9 L272.8,357.9 L273.3,358.3 L275.6,353.9 L277.8,346.1 L280.0,336.1 L282.2,326.1 L284.4,315.0 L286.0,302.8 L287.3,291.7 L287.8,280.6 L288.2,278.3 L289.6,258.3 L290.7,251.7 L292.2,241.7 L292.9,240.6 L294.0,252.8 L295.1,245.0 L296.2,239.4 L297.3,253.9 L298.2,263.9 L298.9,280.6 L300.0,291.7 L301.1,302.8 L302.2,313.9 L303.3,325.0 L304.4,336.1 L305.6,345.0 L306.7,351.7 L308.2,357.2 L310.0,361.0 L312.7,363.4 Z" fill="#4b4b4b" stroke="none" stroke-width="1"/>
<path d="M220.6,363.0 L223.5,361.5 L225.0,358.3 L226.1,351.7 L227.2,342.8 L228.3,328.0 L229.4,313.9 L231.0,291.7 L232.3,278.3 L233.9,269.4 L234.5,258.0 L235.0,249.4 L235.7,247.2 L236.5,243.0 L237.2,239.4 L238.3,246.1 L239.4,253.9 L240.2,248.0 L241.0,242.3 L242.1,251.7 L242.8,267.2 L244.3,263.9 L245.7,280.6 L247.2,273.9 L248.3,287.2 L250.1,302.8 L251.7,299.4 L253.2,313.9 L254.2,323.0 L255.0,331.7 L257.2,335.0 L259.4,341.7 L261.0,349.4 L262.8,348.3 L264.3,351.7 L266.1,356.1 L269.4,359.0 L272.8,359.4 L276.0,359.6 L279.0,361.0 L284.0,362.3 L288.0,362.8" fill="none" stroke="#111" stroke-width="1.0" stroke-linejoin="round"/>
<path d="M404.5,363.4 L407.0,362.0 L410.0,361.2 L413.0,360.8 L415.0,361.1 L417.0,360.1 L419.5,357.0 L422.2,350.9 L424.2,342.7 L426.9,330.4 L429.3,314.0 L431.4,293.5 L433.0,273.0 L434.5,252.5 L435.5,244.0 L436.5,239.2 L438.0,242.2 L439.6,248.4 L440.6,250.4 L441.6,258.6 L442.7,273.0 L444.1,289.4 L445.7,305.8 L447.8,322.2 L449.8,334.5 L451.9,343.7 L454.3,352.9 L457.0,358.0 L460.1,360.7 L464.2,361.5 L466.0,363.4 Z" fill="#4b4b4b" stroke="none" stroke-width="1"/>
<path d="M386.5,363.2 L388.0,362.5 L389.0,361.4 L390.6,357.0 L391.7,347.2 L392.8,333.1 L393.9,316.8 L395.0,295.0 L395.3,282.0 L396.0,268.5 L396.8,252.8 L397.6,244.0 L398.6,241.5 L399.7,239.3 L400.2,242.4 L400.9,258.0 L401.8,273.7 L402.6,289.3 L403.0,295.0 L404.2,305.9 L405.3,316.8 L405.9,324.4 L407.2,326.0 L408.6,332.0 L410.7,337.4 L412.4,341.8 L414.0,348.3 L415.6,353.8 L417.8,358.1 L420.5,360.8 L423.3,361.9 L426.0,362.8" fill="none" stroke="#111" stroke-width="1.0" stroke-linejoin="round"/>
<line x1="56.20" y1="428.00" x2="56.20" y2="633.50" stroke="#000" stroke-width="1.2"/>
<line x1="53.00" y1="632.90" x2="56.20" y2="632.90" stroke="#000" stroke-width="1.1"/>
<text transform="translate(43.07 636.90) scale(1.0700 1)" font-size="10.4" font-weight="bold" fill="#000">0</text>
<line x1="53.00" y1="598.80" x2="56.20" y2="598.80" stroke="#000" stroke-width="1.1"/>
<text transform="translate(30.72 602.80) scale(1.0700 1)" font-size="10.4" font-weight="bold" fill="#000">100</text>
<line x1="53.00" y1="564.70" x2="56.20" y2="564.70" stroke="#000" stroke-width="1.1"/>
<text transform="translate(30.72 568.70) scale(1.0700 1)" font-size="10.4" font-weight="bold" fill="#000">200</text>
<line x1="53.00" y1="530.60" x2="56.20" y2="530.60" stroke="#000" stroke-width="1.1"/>
<text transform="translate(30.72 534.60) scale(1.0700 1)" font-size="10.4" font-weight="bold" fill="#000">300</text>
<line x1="53.00" y1="496.50" x2="56.20" y2="496.50" stroke="#000" stroke-width="1.1"/>
<text transform="translate(30.72 500.50) scale(1.0700 1)" font-size="10.4" font-weight="bold" fill="#000">400</text>
<line x1="53.00" y1="462.40" x2="56.20" y2="462.40" stroke="#000" stroke-width="1.1"/>
<text transform="translate(30.72 466.40) scale(1.0700 1)" font-size="10.4" font-weight="bold" fill="#000">500</text>
<line x1="53.00" y1="428.30" x2="56.20" y2="428.30" stroke="#000" stroke-width="1.1"/>
<text transform="translate(30.72 432.30) scale(1.0700 1)" font-size="10.4" font-weight="bold" fill="#000">600</text>
<text transform="translate(21.50 614.91) rotate(-90) scale(0.9800 1)" font-size="12.6" fill="#000" stroke="#000" stroke-width="0.18">IFN-γ spots per 5,000 target cells</text>
<line x1="56.20" y1="632.90" x2="56.20" y2="635.90" stroke="#000" stroke-width="1.0"/>
<line x1="123.75" y1="632.90" x2="123.75" y2="635.90" stroke="#000" stroke-width="1.0"/>
<line x1="191.30" y1="632.90" x2="191.30" y2="635.90" stroke="#000" stroke-width="1.0"/>
<line x1="258.85" y1="632.90" x2="258.85" y2="635.90" stroke="#000" stroke-width="1.0"/>
<rect x="84.10" y="616.20" width="10.65" height="16.70" fill="#8a8a8a" stroke="#555" stroke-width="0.8"/>
<rect x="105.30" y="577.30" width="10.85" height="55.70" fill="#000"/>
<line x1="89.43" y1="612.30" x2="89.43" y2="620.10" stroke="#333" stroke-width="0.9"/>
<line x1="87.23" y1="612.30" x2="91.63" y2="612.30" stroke="#333" stroke-width="0.9"/>
<line x1="87.23" y1="620.10" x2="91.63" y2="620.10" stroke="#333" stroke-width="0.9"/>
<line x1="110.73" y1="573.10" x2="110.73" y2="577.20" stroke="#555" stroke-width="0.9"/>
<line x1="108.53" y1="573.10" x2="112.93" y2="573.10" stroke="#555" stroke-width="0.9"/>
<rect x="151.65" y="567.00" width="10.65" height="65.90" fill="#8a8a8a" stroke="#555" stroke-width="0.8"/>
<rect x="172.85" y="512.70" width="10.85" height="120.30" fill="#000"/>
<line x1="156.97" y1="564.10" x2="156.97" y2="569.90" stroke="#333" stroke-width="0.9"/>
<line x1="154.78" y1="564.10" x2="159.17" y2="564.10" stroke="#333" stroke-width="0.9"/>
<line x1="154.78" y1="569.90" x2="159.17" y2="569.90" stroke="#333" stroke-width="0.9"/>
<line x1="178.27" y1="504.00" x2="178.27" y2="512.60" stroke="#555" stroke-width="0.9"/>
<line x1="176.07" y1="504.00" x2="180.47" y2="504.00" stroke="#555" stroke-width="0.9"/>
<rect x="219.20" y="517.00" width="10.65" height="115.90" fill="#8a8a8a" stroke="#555" stroke-width="0.8"/>
<rect x="240.40" y="461.60" width="10.85" height="171.40" fill="#000"/>
<line x1="224.53" y1="514.20" x2="224.53" y2="519.80" stroke="#333" stroke-width="0.9"/>
<line x1="222.33" y1="514.20" x2="226.72" y2="514.20" stroke="#333" stroke-width="0.9"/>
<line x1="222.33" y1="519.80" x2="226.72" y2="519.80" stroke="#333" stroke-width="0.9"/>
<line x1="245.82" y1="457.70" x2="245.82" y2="461.50" stroke="#555" stroke-width="0.9"/>
<line x1="243.62" y1="457.70" x2="248.02" y2="457.70" stroke="#555" stroke-width="0.9"/>
<line x1="56.20" y1="632.90" x2="258.85" y2="632.90" stroke="#000" stroke-width="1.2"/>
<text transform="translate(60.48 630.80) scale(1.3000 1)" font-size="5.0" fill="#555" stroke="#555" stroke-width="0.35">n.d.</text>
<text transform="translate(73.48 630.80) scale(1.3000 1)" font-size="5.0" fill="#555" stroke="#555" stroke-width="0.35">n.d.</text>
<text transform="translate(95.58 630.80) scale(1.3000 1)" font-size="5.0" fill="#555" stroke="#555" stroke-width="0.35">n.d.</text>
<text transform="translate(127.88 630.80) scale(1.3000 1)" font-size="5.0" fill="#555" stroke="#555" stroke-width="0.35">n.d.</text>
<text transform="translate(140.38 630.80) scale(1.3000 1)" font-size="5.0" fill="#555" stroke="#555" stroke-width="0.35">n.d.</text>
<text transform="translate(162.28 630.80) scale(1.3000 1)" font-size="5.0" fill="#555" stroke="#555" stroke-width="0.35">n.d.</text>
<text transform="translate(194.08 630.80) scale(1.3000 1)" font-size="5.0" fill="#555" stroke="#555" stroke-width="0.35">n.d.</text>
<text transform="translate(205.88 630.80) scale(1.3000 1)" font-size="5.0" fill="#555" stroke="#555" stroke-width="0.35">n.d.</text>
<text transform="translate(229.58 630.80) scale(1.3000 1)" font-size="5.0" fill="#555" stroke="#555" stroke-width="0.35">n.d.</text>
<text transform="translate(71.74 649.60) scale(0.9949 1)" font-size="12.9" fill="#000" stroke="#000" stroke-width="0.35">IVS-B</text>
<text transform="translate(141.99 649.60) scale(0.9818 1)" font-size="12.9" fill="#000" stroke="#000" stroke-width="0.35">D115</text>
<text transform="translate(212.75 649.60) scale(0.9690 1)" font-size="12.9" fill="#000" stroke="#000" stroke-width="0.35">T58</text>
<rect x="60.60" y="429.60" width="12.40" height="12.40" fill="#fff" stroke="#555" stroke-width="1"/>
<text transform="translate(78.64 440.10) scale(1.0400 1)" font-size="12.3" fill="#000" stroke="#000" stroke-width="0.35">T cells</text>
<rect x="60.60" y="445.80" width="12.40" height="12.40" fill="#dcdcdc" stroke="#555" stroke-width="1"/>
<text transform="translate(78.07 455.90) scale(1.0400 1)" font-size="12.3" fill="#000" stroke="#000" stroke-width="0.35">primary tumor (A2<tspan font-size="6.6" dy="-4.4">-</tspan><tspan dy="4.4">tyr</tspan><tspan font-size="6.6" dy="-4.4">+</tspan><tspan dy="4.4">)</tspan></text>
<rect x="60.60" y="461.80" width="12.40" height="12.40" fill="#8a8a8a" stroke="#555" stroke-width="1"/>
<text transform="translate(78.07 471.70) scale(1.0400 1)" font-size="12.3" fill="#000" stroke="#000" stroke-width="0.35">primary tumor (A2<tspan font-size="6.6" dy="-4.4">tg</tspan><tspan dy="4.4">tyr</tspan><tspan font-size="6.6" dy="-4.4">+</tspan><tspan dy="4.4">)</tspan></text>
<rect x="60.60" y="477.70" width="12.40" height="12.40" fill="#4a4a4a" stroke="#555" stroke-width="1"/>
<text transform="translate(77.88 488.00) scale(1.0400 1)" font-size="12.3" fill="#000" stroke="#000" stroke-width="0.35">Mel-A375 (A2<tspan font-size="6.6" dy="-4.4">+</tspan><tspan dy="4.4">tyr</tspan><tspan font-size="6.6" dy="-4.4">-</tspan><tspan dy="4.4">)</tspan></text>
<rect x="60.60" y="494.00" width="12.40" height="12.40" fill="#000" stroke="#555" stroke-width="1"/>
<text transform="translate(77.88 504.00) scale(1.0400 1)" font-size="12.3" fill="#000" stroke="#000" stroke-width="0.35">Mel-93.04A12</text>
<text transform="translate(78.23 519.20) scale(1.0400 1)" font-size="12.3" fill="#000" stroke="#000" stroke-width="0.35">(A2<tspan font-size="6.6" dy="-4.4">+</tspan><tspan dy="4.4">tyr</tspan><tspan font-size="6.6" dy="-4.4">+</tspan><tspan dy="4.4">)</tspan></text>
<line x1="316.50" y1="428.60" x2="316.50" y2="632.60" stroke="#000" stroke-width="1.2"/>
<line x1="313.30" y1="632.00" x2="316.50" y2="632.00" stroke="#000" stroke-width="1.1"/>
<text transform="translate(303.87 636.10) scale(1.0700 1)" font-size="10.4" font-weight="bold" fill="#000">0</text>
<line x1="313.30" y1="581.55" x2="316.50" y2="581.55" stroke="#000" stroke-width="1.1"/>
<text transform="translate(291.52 585.65) scale(1.0700 1)" font-size="10.4" font-weight="bold" fill="#000">100</text>
<line x1="313.30" y1="531.10" x2="316.50" y2="531.10" stroke="#000" stroke-width="1.1"/>
<text transform="translate(291.52 535.20) scale(1.0700 1)" font-size="10.4" font-weight="bold" fill="#000">200</text>
<line x1="313.30" y1="480.65" x2="316.50" y2="480.65" stroke="#000" stroke-width="1.1"/>
<text transform="translate(291.52 484.75) scale(1.0700 1)" font-size="10.4" font-weight="bold" fill="#000">300</text>
<line x1="313.30" y1="430.20" x2="316.50" y2="430.20" stroke="#000" stroke-width="1.1"/>
<text transform="translate(291.52 434.30) scale(1.0700 1)" font-size="10.4" font-weight="bold" fill="#000">400</text>
<text transform="translate(282.00 624.39) rotate(-90) scale(0.9850 1)" font-size="12.4" fill="#000" stroke="#000" stroke-width="0.18">perforin spots per 5,000 target cells</text>
<line x1="316.50" y1="632.00" x2="316.50" y2="635.00" stroke="#000" stroke-width="1.0"/>
<line x1="383.90" y1="632.00" x2="383.90" y2="635.00" stroke="#000" stroke-width="1.0"/>
<line x1="451.30" y1="632.00" x2="451.30" y2="635.00" stroke="#000" stroke-width="1.0"/>
<line x1="518.70" y1="632.00" x2="518.70" y2="635.00" stroke="#000" stroke-width="1.0"/>
<rect x="324.30" y="620.10" width="10.40" height="11.90" fill="#fff" stroke="#555" stroke-width="0.8"/>
<rect x="334.70" y="619.60" width="10.40" height="12.40" fill="#dcdcdc" stroke="#555" stroke-width="0.8"/>
<rect x="345.10" y="574.60" width="10.40" height="57.40" fill="#8a8a8a" stroke="#555" stroke-width="0.8"/>
<rect x="355.50" y="622.10" width="10.40" height="9.90" fill="#4a4a4a" stroke="#555" stroke-width="0.8"/>
<rect x="365.80" y="499.70" width="10.60" height="132.50" fill="#000"/>
<line x1="329.50" y1="618.90" x2="329.50" y2="620.90" stroke="#333" stroke-width="0.9"/>
<line x1="327.30" y1="618.90" x2="331.70" y2="618.90" stroke="#333" stroke-width="0.9"/>
<line x1="327.30" y1="620.90" x2="331.70" y2="620.90" stroke="#333" stroke-width="0.9"/>
<line x1="339.90" y1="618.40" x2="339.90" y2="620.40" stroke="#333" stroke-width="0.9"/>
<line x1="337.70" y1="618.40" x2="342.10" y2="618.40" stroke="#333" stroke-width="0.9"/>
<line x1="337.70" y1="620.40" x2="342.10" y2="620.40" stroke="#333" stroke-width="0.9"/>
<line x1="350.30" y1="573.00" x2="350.30" y2="575.80" stroke="#333" stroke-width="0.9"/>
<line x1="348.10" y1="573.00" x2="352.50" y2="573.00" stroke="#333" stroke-width="0.9"/>
<line x1="348.10" y1="575.80" x2="352.50" y2="575.80" stroke="#333" stroke-width="0.9"/>
<line x1="360.70" y1="621.00" x2="360.70" y2="622.80" stroke="#333" stroke-width="0.9"/>
<line x1="358.50" y1="621.00" x2="362.90" y2="621.00" stroke="#333" stroke-width="0.9"/>
<line x1="358.50" y1="622.80" x2="362.90" y2="622.80" stroke="#333" stroke-width="0.9"/>
<line x1="371.10" y1="484.30" x2="371.10" y2="499.50" stroke="#555" stroke-width="0.9"/>
<line x1="368.90" y1="484.30" x2="373.30" y2="484.30" stroke="#555" stroke-width="0.9"/>
<rect x="391.70" y="626.50" width="10.40" height="5.50" fill="#fff" stroke="#555" stroke-width="0.8"/>
<rect x="402.10" y="627.10" width="10.40" height="4.90" fill="#dcdcdc" stroke="#555" stroke-width="0.8"/>
<rect x="412.50" y="519.80" width="10.40" height="112.20" fill="#8a8a8a" stroke="#555" stroke-width="0.8"/>
<rect x="422.90" y="628.10" width="10.40" height="3.90" fill="#4a4a4a" stroke="#555" stroke-width="0.8"/>
<rect x="433.20" y="463.40" width="10.60" height="168.80" fill="#000"/>
<line x1="396.90" y1="625.60" x2="396.90" y2="627.00" stroke="#333" stroke-width="0.9"/>
<line x1="394.70" y1="625.60" x2="399.10" y2="625.60" stroke="#333" stroke-width="0.9"/>
<line x1="394.70" y1="627.00" x2="399.10" y2="627.00" stroke="#333" stroke-width="0.9"/>
<line x1="407.30" y1="626.10" x2="407.30" y2="627.70" stroke="#333" stroke-width="0.9"/>
<line x1="405.10" y1="626.10" x2="409.50" y2="626.10" stroke="#333" stroke-width="0.9"/>
<line x1="405.10" y1="627.70" x2="409.50" y2="627.70" stroke="#333" stroke-width="0.9"/>
<line x1="417.70" y1="510.40" x2="417.70" y2="528.80" stroke="#333" stroke-width="0.9"/>
<line x1="415.50" y1="510.40" x2="419.90" y2="510.40" stroke="#333" stroke-width="0.9"/>
<line x1="415.50" y1="528.80" x2="419.90" y2="528.80" stroke="#333" stroke-width="0.9"/>
<line x1="428.10" y1="627.30" x2="428.10" y2="628.50" stroke="#333" stroke-width="0.9"/>
<line x1="425.90" y1="627.30" x2="430.30" y2="627.30" stroke="#333" stroke-width="0.9"/>
<line x1="425.90" y1="628.50" x2="430.30" y2="628.50" stroke="#333" stroke-width="0.9"/>
<line x1="438.50" y1="441.70" x2="438.50" y2="463.20" stroke="#555" stroke-width="0.9"/>
<line x1="436.30" y1="441.70" x2="440.70" y2="441.70" stroke="#555" stroke-width="0.9"/>
<rect x="459.10" y="629.10" width="10.40" height="2.90" fill="#fff" stroke="#555" stroke-width="0.8"/>
<rect x="469.50" y="629.60" width="10.40" height="2.40" fill="#dcdcdc" stroke="#555" stroke-width="0.8"/>
<rect x="479.90" y="482.40" width="10.40" height="149.60" fill="#8a8a8a" stroke="#555" stroke-width="0.8"/>
<rect x="490.30" y="629.70" width="10.40" height="2.30" fill="#4a4a4a" stroke="#555" stroke-width="0.8"/>
<rect x="500.60" y="457.00" width="10.60" height="175.20" fill="#000"/>
<line x1="464.30" y1="628.30" x2="464.30" y2="629.50" stroke="#333" stroke-width="0.9"/>
<line x1="462.10" y1="628.30" x2="466.50" y2="628.30" stroke="#333" stroke-width="0.9"/>
<line x1="462.10" y1="629.50" x2="466.50" y2="629.50" stroke="#333" stroke-width="0.9"/>
<line x1="474.70" y1="628.90" x2="474.70" y2="629.90" stroke="#333" stroke-width="0.9"/>
<line x1="472.50" y1="628.90" x2="476.90" y2="628.90" stroke="#333" stroke-width="0.9"/>
<line x1="472.50" y1="629.90" x2="476.90" y2="629.90" stroke="#333" stroke-width="0.9"/>
<line x1="485.10" y1="472.40" x2="485.10" y2="492.00" stroke="#333" stroke-width="0.9"/>
<line x1="482.90" y1="472.40" x2="487.30" y2="472.40" stroke="#333" stroke-width="0.9"/>
<line x1="482.90" y1="492.00" x2="487.30" y2="492.00" stroke="#333" stroke-width="0.9"/>
<line x1="495.50" y1="629.10" x2="495.50" y2="629.90" stroke="#333" stroke-width="0.9"/>
<line x1="493.30" y1="629.10" x2="497.70" y2="629.10" stroke="#333" stroke-width="0.9"/>
<line x1="493.30" y1="629.90" x2="497.70" y2="629.90" stroke="#333" stroke-width="0.9"/>
<line x1="505.90" y1="445.40" x2="505.90" y2="456.80" stroke="#555" stroke-width="0.9"/>
<line x1="503.70" y1="445.40" x2="508.10" y2="445.40" stroke="#555" stroke-width="0.9"/>
<line x1="316.50" y1="632.00" x2="518.70" y2="632.00" stroke="#000" stroke-width="1.2"/>
<text transform="translate(332.62 649.40) scale(1.0169 1)" font-size="12.9" fill="#000" stroke="#000" stroke-width="0.35">IVS-B</text>
<text transform="translate(402.34 649.40) scale(1.0277 1)" font-size="12.9" fill="#000" stroke="#000" stroke-width="0.35">D115</text>
<text transform="translate(474.55 649.40) scale(0.9807 1)" font-size="12.9" fill="#000" stroke="#000" stroke-width="0.35">T58</text>
</svg>
</body></html>
